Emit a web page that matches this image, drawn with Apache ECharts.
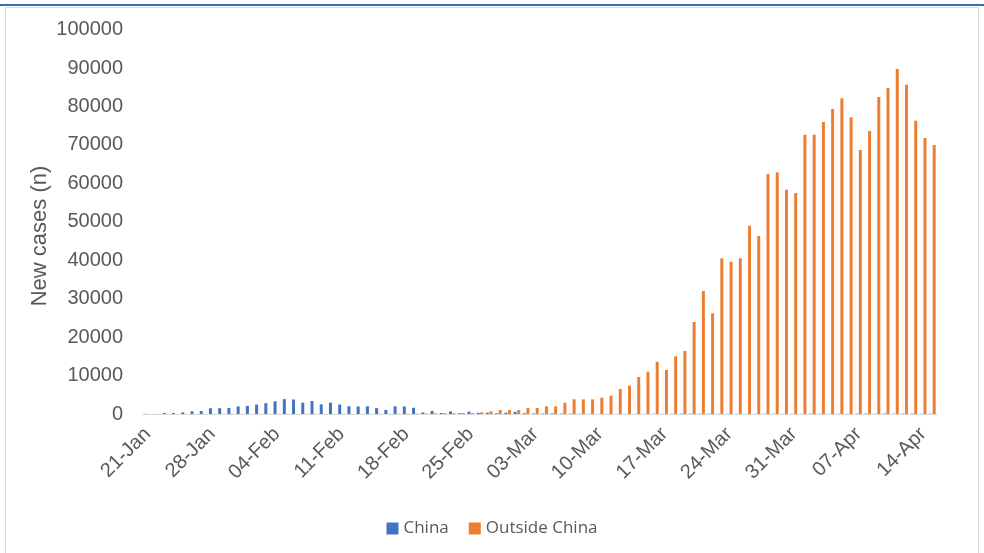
<!DOCTYPE html>
<html>
<head>
<meta charset="utf-8">
<title>New cases: China vs Outside China</title>
<script src="https://cdn.jsdelivr.net/npm/echarts@6/dist/echarts.min.js"></script>
<style>
  html, body { margin: 0; padding: 0; background: #ffffff; }
  #chart { width: 984px; height: 553px; }
</style>
</head>
<body>
<div id="chart"></div>
<script>
// Daily reporting dates, 21 January to 15 April
const dates = [
  '21-Jan','22-Jan','23-Jan','24-Jan','25-Jan','26-Jan','27-Jan','28-Jan','29-Jan','30-Jan','31-Jan',
  '01-Feb','02-Feb','03-Feb','04-Feb','05-Feb','06-Feb','07-Feb','08-Feb','09-Feb','10-Feb',
  '11-Feb','12-Feb','13-Feb','14-Feb','15-Feb','16-Feb','17-Feb','18-Feb','19-Feb','20-Feb',
  '21-Feb','22-Feb','23-Feb','24-Feb','25-Feb','26-Feb','27-Feb','28-Feb','29-Feb',
  '01-Mar','02-Mar','03-Mar','04-Mar','05-Mar','06-Mar','07-Mar','08-Mar','09-Mar','10-Mar',
  '11-Mar','12-Mar','13-Mar','14-Mar','15-Mar','16-Mar','17-Mar','18-Mar','19-Mar','20-Mar',
  '21-Mar','22-Mar','23-Mar','24-Mar','25-Mar','26-Mar','27-Mar','28-Mar','29-Mar','30-Mar','31-Mar',
  '01-Apr','02-Apr','03-Apr','04-Apr','05-Apr','06-Apr','07-Apr','08-Apr','09-Apr','10-Apr',
  '11-Apr','12-Apr','13-Apr','14-Apr','15-Apr'
];

// New cases reported in China
const chinaCases = [
  60, 30, 260, 260, 440, 690, 770, 1500, 1510, 1550,
  1980, 2100, 2450, 2830, 3300, 3860, 3780, 2950, 3390, 2500,
  2950, 2470, 2020, 1950, 2000, 1510, 1070, 2000, 1950, 1620,
  390, 800, 250, 650, 220, 620, 300, 330, 200, 330,
  570, 200, 130, 120, 140, 100, 100, 45, 40, 20,
  25, 20, 15, 20, 30, 40, 50, 60, 90, 100,
  70, 80, 50, 60, 50, 30, 40, 60, 50, 30,
  40, 40, 80, 60, 40, 60, 40, 80, 100, 60,
  100, 50, 80, 90, 50, 70
];

// New cases reported outside China
const outsideCases = [
  5, 10, 10, 15, 20, 15, 20, 20, 15, 25,
  20, 15, 20, 25, 30, 25, 20, 30, 20, 25,
  30, 20, 15, 25, 20, 40, 50, 60, 80, 100,
  120, 150, 230, 200, 270, 220, 460, 700, 1040, 1040,
  1040, 1560, 1560, 2000, 2000, 2940, 3820, 3820, 3820, 4240,
  4760, 6500, 7360, 9620, 11000, 13600, 11440, 15000, 16390, 23930,
  31990, 26190, 40500, 39610, 40500, 48980, 46300, 62420, 62860, 58340,
  57480, 72650, 72650, 75950, 79330, 82110, 77170, 68670, 73610, 82450,
  84790, 89730, 85650, 76290, 71790, 69970
];

// Value axis ticks
const yTicks = [0, 10000, 20000, 30000, 40000, 50000, 60000, 70000, 80000, 90000, 100000];

const textGrey = '#595959';
const axisFont = 'Liberation Sans, Arial, sans-serif';

const chart = echarts.init(document.getElementById('chart'), null, { renderer: 'canvas' });

chart.setOption({
  backgroundColor: '#ffffff',
  animation: false,
  graphic: [
    // outer chart frame
    {
      type: 'rect',
      shape: { x: 5.5, y: 7.5, width: 973, height: 560 },
      style: { fill: 'none', stroke: '#d9d9d9', lineWidth: 1 },
      silent: true
    },
    // blue rule above the frame
    {
      type: 'rect',
      shape: { x: 0, y: 4, width: 984, height: 2 },
      style: { fill: '#2f75b5' },
      silent: true
    },
    // value axis title
    {
      type: 'text',
      x: 40,
      y: 236,
      rotation: Math.PI / 2,
      style: {
        text: 'New cases (n)',
        fill: textGrey,
        fontSize: 22,
        fontFamily: axisFont,
        align: 'center',
        verticalAlign: 'middle'
      },
      silent: true
    }
  ],
  grid: { left: 143, right: 47, top: 29.6, bottom: 139, containLabel: false },
  legend: {
    data: ['China', 'Outside China'],
    bottom: 11,
    left: 'center',
    icon: 'rect',
    itemWidth: 12,
    itemHeight: 12,
    itemGap: 20,
    textStyle: { color: textGrey, fontSize: 17, fontFamily: 'Open Sans, sans-serif' }
  },
  xAxis: {
    type: 'category',
    data: dates,
    boundaryGap: true,
    axisLine: { show: true, lineStyle: { color: '#d9d9d9', width: 1 } },
    axisTick: { show: false },
    axisLabel: {
      interval: 6,
      rotate: 45,
      margin: 17,
      color: textGrey,
      fontSize: 20,
      fontFamily: axisFont
    },
    splitLine: { show: false }
  },
  yAxis: {
    type: 'value',
    min: yTicks[0],
    max: yTicks[yTicks.length - 1],
    interval: yTicks[1] - yTicks[0],
    axisLine: { show: false },
    axisTick: { show: false },
    splitLine: { show: false },
    axisLabel: {
      color: textGrey,
      fontSize: 20,
      fontFamily: axisFont,
      margin: 20,
      formatter: (v) => String(v)
    }
  },
  series: [
    {
      name: 'China',
      type: 'bar',
      data: chinaCases,
      barWidth: 3,
      barGap: '20%',
      itemStyle: { color: '#4472c4' }
    },
    {
      name: 'Outside China',
      type: 'bar',
      data: outsideCases,
      barWidth: 3,
      itemStyle: { color: '#ed7d31' }
    }
  ]
});
</script>
</body>
</html>
